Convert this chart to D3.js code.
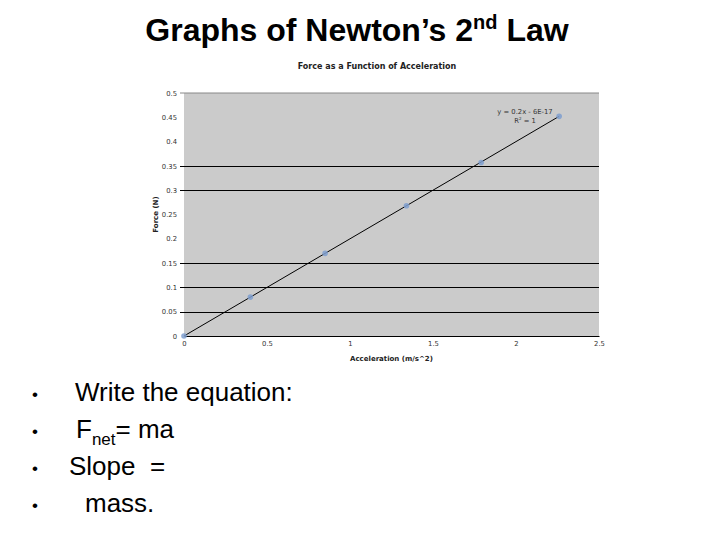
<!DOCTYPE html>
<html>
<head>
<meta charset="utf-8">
<script src="https://cdn.jsdelivr.net/npm/d3@7"></script>
<style>
  body { margin: 0; background: #fff; }
  svg { display: block; }
  text { white-space: pre; }
</style>
</head>
<body>
<div id="slide"></div>
<script>
// chart data
var accel = [0, 0.4, 0.85, 1.34, 1.79, 2.26];
var force = [0, 0.08, 0.17, 0.268, 0.357, 0.452];
var xTicks = [0, 0.5, 1, 1.5, 2, 2.5];
var yTicks = [0, 0.05, 0.1, 0.15, 0.2, 0.25, 0.3, 0.35, 0.4, 0.45, 0.5];
// only these grid lines show up dark in the picture
var gridShown = [0.05, 0.1, 0.15, 0.3, 0.35];
var trendSlope = 0.2;
var bullets = ["Write the equation:", "Fnet = ma", "Slope  =", "mass."];

let width = 720, height = 540;

let svg = d3.select('#slide')
  .append('svg')
  .attr('width', width)
  .attr('height', height)
  .style('font-family', 'Liberation Sans, Arial, sans-serif');

/** slide title */
let title = svg.append('text')
  .attr('x', 357)
  .attr('y', 41)
  .attr('text-anchor', 'middle')
  .attr('font-size', 32)
  .attr('font-weight', 'bold')
  .attr('fill', '#000');
title.append('tspan').text('Graphs of Newton\u2019s 2');
title.append('tspan').text('nd').attr('font-size', 20).attr('dy', -12);
title.append('tspan').text(' Law').attr('dy', 12);

/** the chart */
let plot = { left: 184, right: 599, top: 93, bottom: 336 };

let x = d3.scaleLinear().domain([0, 2.5]).range([plot.left, plot.right]);
let y = d3.scaleLinear().domain([0, 0.5]).range([plot.bottom, plot.top]);

let chart = svg.append('g')
  .style('font-family', 'DejaVu Sans, Verdana, sans-serif');

chart.append('text')
  .attr('x', 377)
  .attr('y', 69)
  .attr('text-anchor', 'middle')
  .attr('font-size', 8)
  .attr('font-weight', 'bold')
  .attr('fill', '#222')
  .text('Force as a Function of Acceleration');

chart.append('rect')
  .attr('x', plot.left)
  .attr('y', plot.top)
  .attr('width', plot.right - plot.left)
  .attr('height', plot.bottom - plot.top)
  .attr('fill', '#cbcbcb');

// top border is grey
chart.append('line')
  .attr('x1', x(0) - 4).attr('x2', plot.right)
  .attr('y1', y(0.5)).attr('y2', y(0.5))
  .attr('stroke', '#888').attr('stroke-width', 1);

chart.selectAll('.grid')
  .data(gridShown)
  .enter()
  .append('line')
  .attr('class', 'grid')
  .attr('x1', x(0) - 4).attr('x2', plot.right)
  .attr('y1', d => Math.round(y(d)) + 0.5)
  .attr('y2', d => Math.round(y(d)) + 0.5)
  .attr('stroke', '#000').attr('stroke-width', 1);

// y axis labels
let yAxis = chart.append('g')
  .attr('transform', `translate(${plot.left},0)`)
  .call(d3.axisLeft(y).tickValues(yTicks).tickSize(0).tickPadding(7)
    .tickFormat(d => d3.format('')(+d.toFixed(2))));
yAxis.select('.domain').remove();
yAxis.selectAll('text').attr('font-size', 6.8).attr('fill', '#333')
  .style('font-family', 'DejaVu Sans, Verdana, sans-serif');

// x axis
let xAxis = chart.append('g')
  .attr('transform', `translate(0,${plot.bottom})`)
  .call(d3.axisBottom(x).tickValues(xTicks).tickSize(0).tickPadding(5)
    .tickFormat(d => d3.format('')(d)));
xAxis.select('.domain').attr('stroke', '#000');
xAxis.selectAll('text').attr('font-size', 6.8).attr('fill', '#333')
  .style('font-family', 'DejaVu Sans, Verdana, sans-serif');

chart.append('text')
  .attr('x', (plot.left + plot.right) / 2)
  .attr('y', 361)
  .attr('text-anchor', 'middle')
  .attr('font-size', 7)
  .attr('font-weight', 'bold')
  .attr('fill', '#222')
  .text('Acceleration (m/s^2)');

chart.append('text')
  .attr('transform', `translate(158,${(plot.top + plot.bottom) / 2}) rotate(-90)`)
  .attr('text-anchor', 'middle')
  .attr('font-size', 7)
  .attr('font-weight', 'bold')
  .attr('fill', '#222')
  .text('Force (N)');

// trend line
let xMax = d3.max(accel);
chart.append('line')
  .attr('x1', x(0)).attr('y1', y(0))
  .attr('x2', x(xMax)).attr('y2', y(trendSlope * xMax))
  .attr('stroke', '#000').attr('stroke-width', 1);

// data points
chart.selectAll('.pt')
  .data(accel.map((a, i) => ({ a: a, f: force[i] })))
  .enter()
  .append('circle')
  .attr('class', 'pt')
  .attr('cx', d => x(d.a))
  .attr('cy', d => y(d.f))
  .attr('r', 2.8)
  .attr('fill', '#7f9fcf')
  .attr('fill-opacity', 0.85);

// trend equation
chart.append('text')
  .attr('x', 525).attr('y', 114)
  .attr('text-anchor', 'middle')
  .attr('font-size', 6.8)
  .attr('fill', '#333')
  .text('y = 0.2x - 6E-17');
let r2 = chart.append('text')
  .attr('x', 525).attr('y', 123)
  .attr('text-anchor', 'middle')
  .attr('font-size', 6.8)
  .attr('fill', '#333');
r2.append('tspan').text('R');
r2.append('tspan').text('2').attr('font-size', 4).attr('dy', -3);
r2.append('tspan').text(' = 1').attr('dy', 3);

/** bullet list */
let bulletX = [75, 76, 69, 85];
let list = svg.append('g').attr('font-size', 26).attr('fill', '#000');
bullets.forEach(function (b, i) {
  let yy = 401 + i * 37;
  list.append('text').attr('x', 32).attr('y', yy - 1).attr('font-size', 17).text('\u2022');
  let t = list.append('text').attr('x', bulletX[i]).attr('y', yy);
  if (b.indexOf('Fnet') === 0) {
    t.append('tspan').text('F');
    t.append('tspan').text('net').attr('font-size', 17).attr('dy', 7);
    t.append('tspan').text('= ma').attr('dy', -7);
  } else {
    t.text(b);
  }
});
</script>
</body>
</html>
